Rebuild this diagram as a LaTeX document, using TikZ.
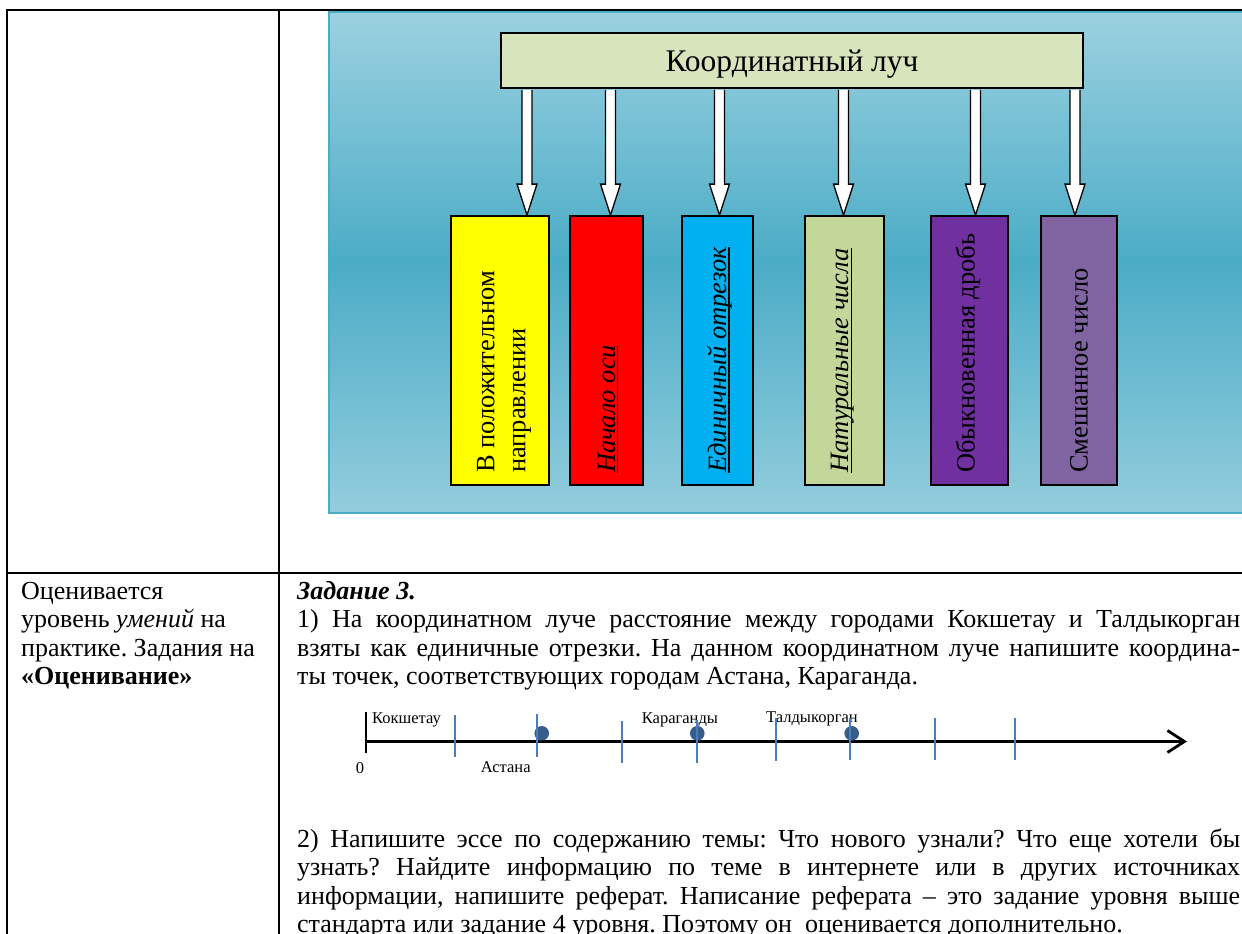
\documentclass[tikz,border=0pt]{standalone}
\usepackage{fontspec}
\setmainfont{Liberation Serif}
\usetikzlibrary{arrows.meta}
\frenchspacing

\definecolor{panelTop}{HTML}{9BD1E0}
\definecolor{panelMid}{HTML}{4BACC6}
\definecolor{panelBot}{HTML}{93CDDD}
\definecolor{panelEdge}{HTML}{4BACC6}
\definecolor{titleFill}{HTML}{D8E4BC}
\definecolor{cYellow}{HTML}{FFFF00}
\definecolor{cRed}{HTML}{FF0000}
\definecolor{cBlue}{HTML}{00B0F0}
\definecolor{cOlive}{HTML}{C4D79B}
\definecolor{cPurple}{HTML}{7030A0}
\definecolor{cLavender}{HTML}{8064A2}
\definecolor{tickBlue}{HTML}{4A7EBB}
\definecolor{dotBlue}{HTML}{385D8A}

% underline at a fixed depth below the baseline
\newcommand\ulword[1]{\setbox0\hbox{#1}\rlap{\rule[-0.12em]{\wd0}{0.055em}}\box0}
% one justified line of the task text
\newcommand\jline[1]{\hbox to 943pt{#1}}
% hollow block arrow from a start point down to an end point
\newcommand\hollowarrow[2]{%
  \draw[hollow] ([xshift=-5pt,yshift=-0.9pt]#1) -- ([xshift=-5pt,yshift=31pt]#2)
    -- ([xshift=-10pt,yshift=31pt]#2) -- (#2) -- ([xshift=10pt,yshift=31pt]#2)
    -- ([xshift=5pt,yshift=31pt]#2) -- ([xshift=5pt,yshift=-0.9pt]#1);}

\tikzset{
  gridline/.style={line width=1.6pt, black},
  titlebox/.style={draw=black, line width=1.8pt, fill=titleFill, minimum width=582pt,
    minimum height=55pt, inner sep=0pt},
  titletext/.style={anchor=base, inner sep=0pt, font=\fontsize{31.5}{36}\selectfont},
  colbox/.style={draw=black, line width=1.8pt, minimum height=269pt, inner sep=0pt},
  vlabel/.style={rotate=90, anchor=west, inner sep=0pt,
    font=\fontsize{26.5}{31}\selectfont, align=left},
  hollow/.style={draw=black, line width=1.3pt, fill=white, line join=miter},
  bodyline/.style={anchor=base west, inner sep=0pt, font=\fontsize{26}{28.5}\selectfont},
  citylabel/.style={anchor=base west, inner sep=0pt, font=\fontsize{16.5}{19}\selectfont},
  axistick/.style={tickBlue, line width=1.8pt},
}

\begin{document}
\begin{tikzpicture}[x=1pt, y=-1pt]
\useasboundingbox (0,0) rectangle (1242,934);
\clip (0,0) rectangle (1242,934);
\fill[white] (0,0) rectangle (1242,934);

% table rules
\draw[gridline] (1250,10) -- (7,10) -- (7,940);
\draw[gridline] (279,10) -- (279,940);
\draw[gridline] (7,573) -- (1250,573);

% scheme background panel
\shade[top color=panelTop, bottom color=panelBot, middle color=panelMid]
  (329,12) rectangle (1260,513);
\draw[panelEdge, line width=2.5pt] (1260,12) -- (329,12) -- (329,513) -- (1260,513);

% title
\node[titlebox] (title) at (792,60.5) {};
\node[titletext] (ttext) at (792,71.5) {Координатный луч};

% coloured boxes
\node[colbox, fill=cYellow,   minimum width=98pt] (b1) at (500,350.5) {};
\node[colbox, fill=cRed,      minimum width=73pt] (b2) at (606.5,350.5) {};
\node[colbox, fill=cBlue,     minimum width=71pt] (b3) at (717.5,350.5) {};
\node[colbox, fill=cOlive,    minimum width=79pt] (b4) at (844.5,350.5) {};
\node[colbox, fill=cPurple,   minimum width=77pt] (b5) at (969.5,350.5) {};
\node[colbox, fill=cLavender, minimum width=76pt] (b6) at (1079,350.5) {};

% box labels
\node[vlabel] (t1) at (504,473) {В положительном\\направлении};
\node[vlabel] (t2) at (608,473) {\itshape\ulword{Начало оси}};
\node[vlabel] (t3) at (720,473) {\itshape\ulword{Единичный отрезок}};
\node[vlabel] (t4) at (843,473) {\itshape\ulword{Натуральные числа}};
\node[vlabel] (t5) at (968,473) {Обыкновенная дробь};
\node[vlabel] (t6) at (1079,473) {Смешанное число};

% arrows from the title to the boxes
\coordinate (s1) at (527,0 |- title.south);
\coordinate (s2) at (610.5,0 |- title.south);
\coordinate (s3) at (719.5,0 |- title.south);
\coordinate (s4) at (843.5,0 |- title.south);
\coordinate (s5) at (975.5,0 |- title.south);
\coordinate (s6) at (1075,0 |- title.south);
\coordinate (e1) at (s1 |- b1.north);
\coordinate (e2) at (s2 |- b2.north);
\coordinate (e3) at (s3 |- b3.north);
\coordinate (e4) at (s4 |- b4.north);
\coordinate (e5) at (s5 |- b5.north);
\coordinate (e6) at (s6 |- b6.north);
\hollowarrow{s1}{e1}
\hollowarrow{s2}{e2}
\hollowarrow{s3}{e3}
\hollowarrow{s4}{e4}
\hollowarrow{s5}{e5}
\hollowarrow{s6}{e6}

% left column
\node[bodyline] (l1) at (21,599) {Оценивается};
\node[bodyline] (l2) at (21,627.5) {уровень \textit{умений} на};
\node[bodyline] (l3) at (21,656) {практике. Задания на};
\node[bodyline] (l4) at (21,684.5) {\textbf{«Оценивание»}};

% task text
\node[bodyline] (h1) at (297,599) {\textbf{\textit{Задание 3.}}};
\node[bodyline] (p1) at (297,627.5) {\jline{1) На координатном луче расстояние между городами Кокшетау и Талдыкорган}};
\node[bodyline] (p2) at (297,656) {\jline{взяты как единичные отрезки. На данном координатном луче напишите координа-}};
\node[bodyline] (p3) at (297,684.5) {ты точек, соответствующих городам Астана, Караганда.};

\node[bodyline] (q1) at (297,847) {\jline{2) Напишите эссе по содержанию темы: Что нового узнали? Что еще хотели бы}};
\node[bodyline] (q2) at (297,875.5) {\jline{узнать? Найдите информацию по теме в интернете или в других источниках}};
\node[bodyline] (q3) at (297,904) {\jline{информации, напишите реферат. Написание реферата – это задание уровня выше}};
\node[bodyline] (q4) at (297,932.5) {стандарта или задание 4 уровня. Поэтому он \ оценивается дополнительно.};

% number line
\coordinate (nl0) at (366,741.5);
\coordinate (nlend) at (1187,741.5);
\draw[line width=2.8pt, -{Straight Barb[length=17pt,width=22pt]}] (nl0) -- (nlend);
\draw[line width=2.5pt] (366,711.5) -- (366,753);

\fill[dotBlue] (541.7,733.3) circle (7.3pt);
\fill[dotBlue] (697.3,733.3) circle (7.3pt);
\fill[dotBlue] (851.7,733.3) circle (7.3pt);

\node[citylabel] (c0) at (355.7,773.3) {0};
\node[citylabel] (c1) at (372,723.5) {Кокшетау};
\node[citylabel] (c2) at (480.7,772.7) {Астана};
\node[citylabel] (c3) at (641.7,723.3) {Караганды};
\node[citylabel] (c4) at (766,722.7) {Талдыкорган};

\draw[axistick] (455,715) -- (455,757);
\draw[axistick] (536.7,714) -- (536.7,757);
\draw[axistick] (621.7,720.7) -- (621.7,762.7);
\draw[axistick] (697.3,720) -- (697.3,762.7);
\draw[axistick] (776,718) -- (776,760.5);
\draw[axistick] (850,718) -- (850,760);
\draw[axistick] (935.3,718) -- (935.3,760);
\draw[axistick] (1015.3,718) -- (1015.3,760);
\end{tikzpicture}
\end{document}
